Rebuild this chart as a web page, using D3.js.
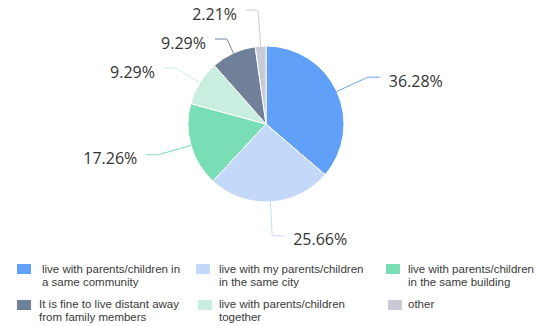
<!DOCTYPE html>
<html>
<head>
<meta charset="utf-8">
<script src="https://cdn.jsdelivr.net/npm/d3@7"></script>
<style>
    body { margin: 0; background: #fff; }
    svg { display: block; }
</style>
</head>
<body>
<script>
// slice data, clockwise from 12 o'clock
const categories = [
    "live with parents/children in a same community",
    "live with my parents/children in the same city",
    "live with parents/children in the same building",
    "live with parents/children together",
    "It is fine to live distant away from family members",
    "other"
];
const values = [36.28, 25.66, 17.26, 9.29, 9.29, 2.21];
const colors = ["#61a0f8", "#c4d8f9", "#79ddb6", "#c9eee0", "#718099", "#c8cad6"];

// legend order and wrapped legend text
const legendOrder = [0, 1, 2, 4, 3, 5];
const legendLines = [
    ["live with parents/children in", "a same community"],
    ["live with my parents/children", "in the same city"],
    ["live with parents/children", "in the same building"],
    ["live with parents/children", "together"],
    ["It is fine to live distant away", "from family members"],
    ["other"]
];

const width = 552, height = 326;
const cx = 266, cy = 124, radius = 78;
const len1 = 34, len2 = 12, textGap = 9, minGap = 29;

let svg = d3.select("body").append("svg")
            .attr("width", width)
            .attr("height", height);

let pie = d3.pie().sort(null).value(function(d) { return d; });
let arcs = pie(values);
let arc = d3.arc().innerRadius(0).outerRadius(radius);

let g = svg.append("g").attr("transform", "translate(" + cx + "," + cy + ")");

// slices
g.selectAll("path.slice")
 .data(arcs)
 .enter().append("path")
 .attr("class", "slice")
 .attr("d", arc)
 .attr("fill", function(d, i) { return colors[i]; })
 .attr("stroke", "#fff")
 .attr("stroke-width", 1);

// label layout: bend point on the ray, then push apart vertically per side
let labels = arcs.map(function(d, i) {
    let a = (d.startAngle + d.endAngle) / 2;
    return {
        i: i, a: a,
        side: Math.sin(a) >= 0 ? 1 : -1,
        y: -(radius + len1) * Math.cos(a)
    };
});

[1, -1].forEach(function(side) {
    let group = labels.filter(function(l) { return l.side == side; })
                      .sort(function(p, q) { return p.y - q.y; });
    for (let iter = 0; iter < 50; iter++) {
        for (let k = 1; k < group.length; k++) {
            let gap = group[k].y - group[k - 1].y;
            if (gap < minGap) {
                let shift = (minGap - gap) / 2;
                group[k - 1].y -= shift;
                group[k].y += shift;
            }
        }
        group.forEach(function(l) { l.y = Math.max(l.y, 10 - cy); });
    }
});

labels.forEach(function(l) {
    let c = Math.cos(l.a);
    let t = Math.abs(c) > 0.2 ? -l.y / c : radius + len1;
    t = Math.max(t, radius + 6);
    l.p0 = [radius * Math.sin(l.a), -radius * Math.cos(l.a)];
    l.p1 = [t * Math.sin(l.a), l.y];
    l.p2 = [l.p1[0] + l.side * len2, l.y];
});

let line = d3.line().curve(d3.curveBasis);

g.selectAll("path.leader")
 .data(labels)
 .enter().append("path")
 .attr("class", "leader")
 .attr("d", function(l) { return line([l.p0, l.p1, l.p1, l.p2]); })
 .attr("fill", "none")
 .attr("stroke", function(l) { return colors[l.i]; })
 .attr("stroke-width", 1);

g.selectAll("text.pct")
 .data(labels)
 .enter().append("text")
 .attr("class", "pct")
 .attr("x", function(l) { return l.p2[0] + l.side * textGap; })
 .attr("y", function(l) { return l.y + 4; })
 .attr("dy", "0.35em")
 .attr("text-anchor", function(l) { return l.side > 0 ? "start" : "end"; })
 .style("font-family", "'Open Sans', 'Noto Sans', sans-serif")
 .style("font-size", "16px")
 .style("fill", "#333")
 .text(function(l) { return values[l.i].toFixed(2) + "%"; });

// legend: 3 columns, 2 rows
const colX = [17, 196, 386];
const textX = [42, 219, 408];
const rowY = [264, 299];

let legend = svg.selectAll("g.legend")
                .data(legendOrder)
                .enter().append("g")
                .attr("class", "legend");

legend.append("rect")
      .attr("x", function(d, k) { return colX[k % 3] + (k >= 4 ? 2 : 0); })
      .attr("y", function(d, k) { return rowY[Math.floor(k / 3)] + (k >= 3 ? 1 : 0); })
      .attr("width", 14)
      .attr("height", 10)
      .attr("fill", function(d) { return colors[d]; });

legend.append("text")
      .attr("y", function(d, k) { return rowY[Math.floor(k / 3)] + 9; })
      .style("font-family", "'Liberation Sans', Arial, sans-serif")
      .style("font-size", "11.5px")
      .style("fill", "#3a3a3a")
      .each(function(d, k) {
          let txt = d3.select(this);
          let x = textX[k % 3] - (k == 3 ? 3 : 0);
          legendLines[d].forEach(function(s, j) {
              txt.append("tspan")
                 .attr("x", x)
                 .attr("dy", j == 0 ? 0 : 12.5)
                 .text(s);
          });
      });
</script>
</body>
</html>
